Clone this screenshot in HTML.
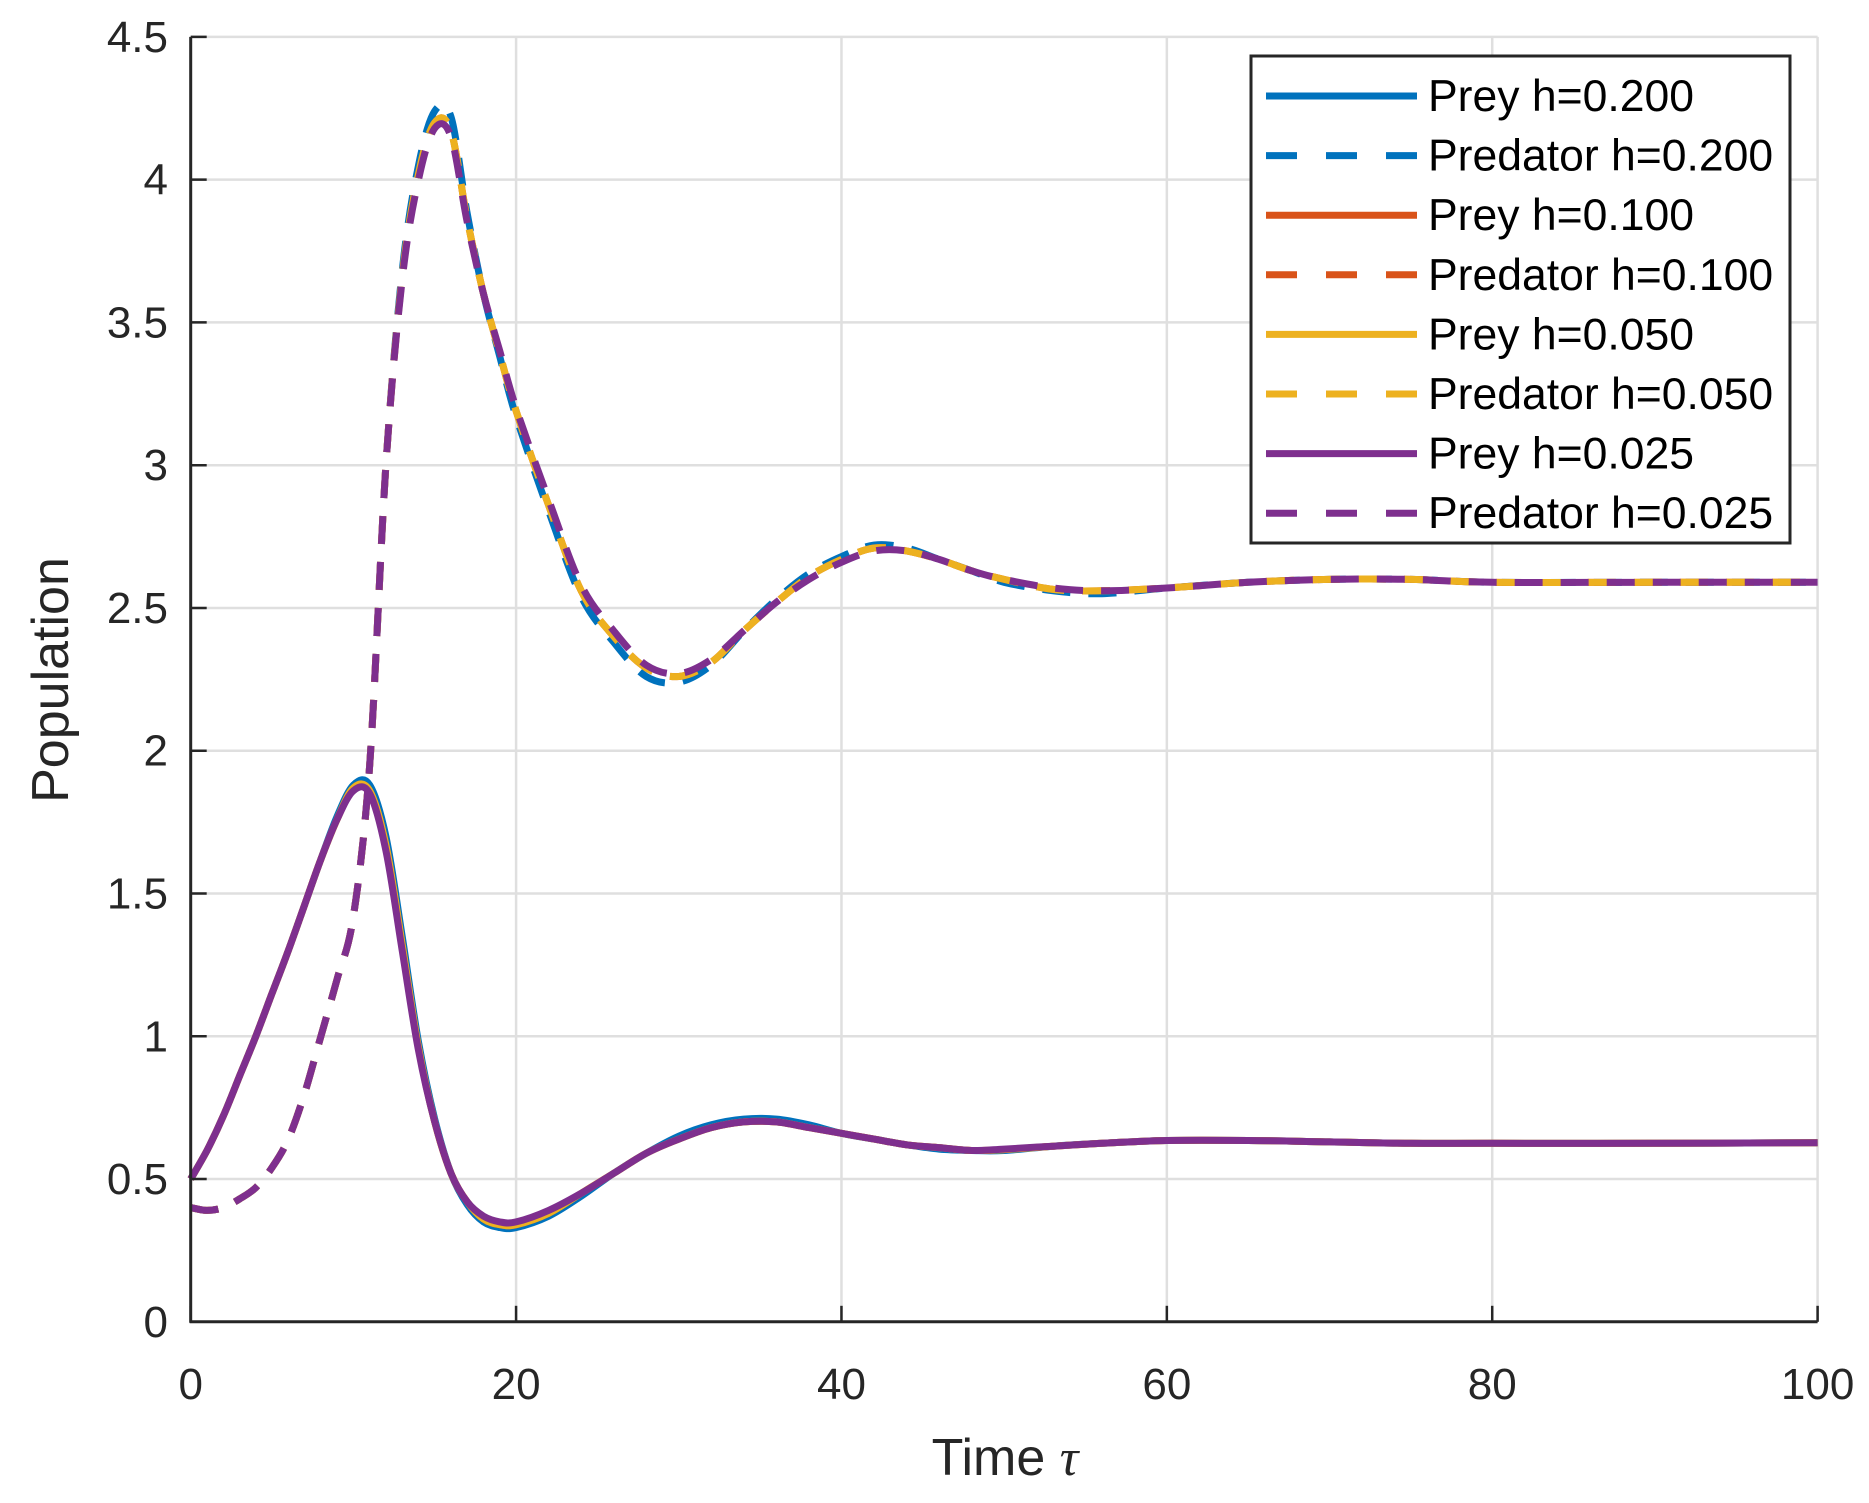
<!DOCTYPE html>
<html><head><meta charset="utf-8"><style>
html,body{margin:0;padding:0;background:#fff}
svg{display:block;font-family:"Liberation Sans",sans-serif}
</style></head><body>
<svg id="chart" width="1869" height="1503" viewBox="0 0 1869 1503">
<rect width="1869" height="1503" fill="#fff"/>
<g id="grid"></g>
<g id="series"></g>
<g id="axes"></g>
<text x="1005" y="1475" font-size="52" text-anchor="middle" fill="#262626">Time <tspan font-family="Liberation Serif, serif" font-style="italic">τ</tspan></text>
<text transform="translate(68,680) rotate(-90)" font-size="52" text-anchor="middle" fill="#262626">Population</text>
<g id="legend"></g>
</svg>
<script>
const xTicks=[0,20,40,60,80,100];
const yTicks=[0,0.5,1,1.5,2,2.5,3,3.5,4,4.5];
const yTickLabels=["0","0.5","1","1.5","2","2.5","3","3.5","4","4.5"];
const t=[0,1,2,3,4,5,6,7,8,9,10,11,12,13,14,15,16,17,18,19,20,22,24,26,28,30,32,34,36,38,40,42,44,46,48,50,53,56,60,65,70,75,80,90,100];
const preyH200=[0.5,0.6,0.72,0.86,1.0,1.15,1.3,1.46,1.62,1.77,1.88,1.88,1.7,1.35,0.98,0.71,0.52,0.41,0.35,0.33,0.33,0.37,0.44,0.52,0.59,0.65,0.69,0.71,0.71,0.69,0.66,0.64,0.62,0.605,0.6,0.6,0.615,0.625,0.635,0.635,0.63,0.625,0.625,0.625,0.627];
const predH200=[0.40,0.39,0.40,0.43,0.47,0.54,0.64,0.80,1.0,1.2,1.42,1.95,3.0,3.68,4.05,4.24,4.22,3.88,3.6,3.38,3.17,2.84,2.54,2.38,2.26,2.24,2.3,2.42,2.53,2.62,2.68,2.72,2.71,2.67,2.63,2.59,2.56,2.55,2.57,2.59,2.60,2.60,2.59,2.59,2.59];
const preyH100=[0.5,0.6,0.72,0.86,1.0,1.15,1.3,1.46,1.62,1.76,1.87,1.86,1.67,1.32,0.96,0.7,0.52,0.42,0.36,0.34,0.34,0.38,0.45,0.52,0.59,0.64,0.68,0.70,0.70,0.68,0.66,0.64,0.62,0.61,0.6,0.603,0.615,0.625,0.635,0.635,0.63,0.625,0.625,0.625,0.627];
const predH100=[0.40,0.39,0.40,0.43,0.47,0.54,0.64,0.80,1.0,1.2,1.42,1.95,3.0,3.66,4.02,4.2,4.17,3.86,3.6,3.39,3.19,2.86,2.56,2.4,2.29,2.26,2.31,2.42,2.52,2.61,2.67,2.71,2.70,2.67,2.63,2.6,2.565,2.56,2.57,2.59,2.60,2.60,2.59,2.59,2.59];
const preyH050=preyH100.slice();
const predH050=predH100.slice();
const preyH025=[0.5,0.6,0.72,0.86,1.0,1.15,1.3,1.46,1.62,1.76,1.86,1.85,1.65,1.3,0.95,0.7,0.52,0.42,0.37,0.35,0.35,0.39,0.45,0.52,0.59,0.64,0.68,0.70,0.70,0.68,0.66,0.64,0.62,0.61,0.6,0.605,0.615,0.625,0.635,0.635,0.63,0.625,0.625,0.625,0.627];
const predH025=[0.40,0.39,0.40,0.43,0.47,0.54,0.64,0.80,1.0,1.2,1.42,1.95,3.0,3.65,4.0,4.18,4.15,3.85,3.6,3.4,3.2,2.88,2.58,2.42,2.3,2.27,2.32,2.42,2.52,2.6,2.66,2.70,2.70,2.67,2.63,2.60,2.57,2.56,2.57,2.59,2.60,2.60,2.59,2.59,2.59];
const seriesLabels=["Prey h=0.200","Predator h=0.200","Prey h=0.100","Predator h=0.100","Prey h=0.050","Predator h=0.050","Prey h=0.025","Predator h=0.025"];

const NS="http://www.w3.org/2000/svg";
const X0=190.7,X1=1817.6,Y0=1321.8,Y1=36.9;
const sx=v=>X0+(v-0)/(100-0)*(X1-X0);
const sy=v=>Y0-(v-0)/(4.5-0)*(Y0-Y1);
function mk(tag,attrs,parent){const e=document.createElementNS(NS,tag);for(const k in attrs)e.setAttribute(k,attrs[k]);parent.appendChild(e);return e;}
function smooth(pts){
  let d='M'+pts[0][0].toFixed(1)+','+pts[0][1].toFixed(1);
  for(let i=0;i<pts.length-1;i++){
    const p0=pts[Math.max(0,i-1)],p1=pts[i],p2=pts[i+1],p3=pts[Math.min(pts.length-1,i+2)];
    const c1x=p1[0]+(p2[0]-p0[0])/6,c1y=p1[1]+(p2[1]-p0[1])/6;
    const c2x=p2[0]-(p3[0]-p1[0])/6,c2y=p2[1]-(p3[1]-p1[1])/6;
    d+='C'+c1x.toFixed(1)+','+c1y.toFixed(1)+' '+c2x.toFixed(1)+','+c2y.toFixed(1)+' '+p2[0].toFixed(1)+','+p2[1].toFixed(1);
  }
  return d;
}
const grid=document.getElementById('grid'),axes=document.getElementById('axes'),ser=document.getElementById('series'),leg=document.getElementById('legend');
xTicks.forEach(v=>{
  const g=mk('line',{x1:sx(v),x2:sx(v),y1:Y0,y2:Y1,stroke:'#dfdfdf','stroke-width':2.5},grid);
  
  
  mk('line',{x1:sx(v),x2:sx(v),y1:Y0,y2:Y0-16,stroke:'#262626','stroke-width':2.5},axes);
  const tx=mk('text',{x:sx(v),y:1399,'font-size':44,'text-anchor':'middle',fill:'#262626'},axes);
  tx.textContent=String(v);
  
  
});
yTicks.forEach((v,i)=>{
  const g=mk('line',{x1:X0,x2:X1,y1:sy(v),y2:sy(v),stroke:'#dfdfdf','stroke-width':2.5},grid);
  
  
  mk('line',{x1:X0,x2:X0+16,y1:sy(v),y2:sy(v),stroke:'#262626','stroke-width':2.5},axes);
  const tx=mk('text',{x:168,y:sy(v)+15,'font-size':44,'text-anchor':'end',fill:'#262626'},axes);
  tx.textContent=yTickLabels[i];
  
  
});
mk('line',{x1:X0,x2:X0,y1:Y0+1,y2:Y1,stroke:'#262626','stroke-width':3},axes);
mk('line',{x1:X0-1,x2:X1,y1:Y0,y2:Y0,stroke:'#262626','stroke-width':3},axes);

const colors=['#0072BD','#0072BD','#D95319','#D95319','#EDB120','#EDB120','#7E2F8E','#7E2F8E'];
const data=[preyH200,predH200,preyH100,predH100,preyH050,predH050,preyH025,predH025];
const names=['prey-h0200','predator-h0200','prey-h0100','predator-h0100','prey-h0050','predator-h0050','prey-h0025','predator-h0025'];
data.forEach((arr,i)=>{
  const pts=arr.map((v,j)=>[sx(t[j]),sy(v)]);
  const p=mk('path',{d:smooth(pts),fill:'none',stroke:colors[i],'stroke-width':7,'stroke-linejoin':'round'},ser);
  if(i%2) p.setAttribute('stroke-dasharray','28 18');
  
  
});
mk('rect',{x:1251,y:56,width:539,height:487,fill:'#fff',stroke:'#262626','stroke-width':3},leg);
seriesLabels.forEach((lab,i)=>{
  const y=96+i*59.6;
  const g=mk('g',{},leg);
  
  
  const l=mk('line',{x1:1266,x2:1417,y1:y,y2:y,stroke:colors[i],'stroke-width':7},g);
  if(i%2) l.setAttribute('stroke-dasharray','31 29');
  const tx=mk('text',{x:1428,y:y+15,'font-size':44.5,fill:'#000'},g);
  tx.textContent=lab;
});
</script>
</body></html>
